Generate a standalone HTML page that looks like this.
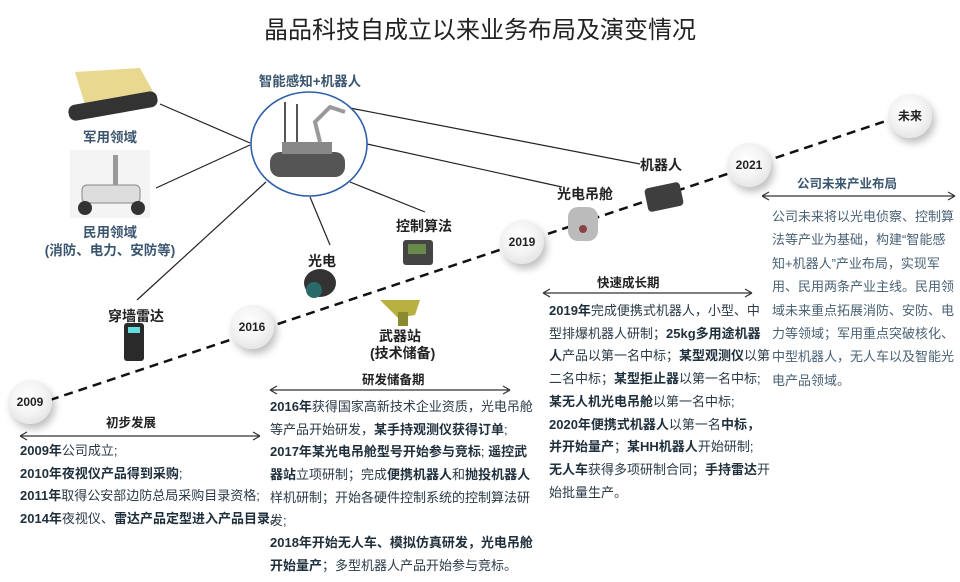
<!DOCTYPE html>
<html><head><meta charset="utf-8"><style>
*{margin:0;padding:0}
body{width:960px;height:582px;background:#fff;position:relative;overflow:hidden;font-family:"Liberation Sans","Noto Sans CJK SC",sans-serif;color:#2b3a47}
.a{position:absolute;white-space:nowrap}
.t{font-size:13px;line-height:22.7px}
b{font-weight:bold;color:#1f2f3c}
.lb{font-weight:bold;font-size:14px;color:#222}
.bl{font-weight:bold;font-size:13.5px;color:#3b5670;text-align:center}
.bub{position:absolute;width:44px;height:44px;border-radius:50%;background:radial-gradient(circle at 45% 40%,#fff 0,#f4f4f4 45%,#d8d8d8 100%);box-shadow:3px 5px 8px rgba(0,0,0,.25);font-weight:bold;font-size:12px;line-height:44px;text-align:center;color:#222}
</style></head><body>
<div class="a" style="left:0;width:960px;top:10px;text-align:center;font-size:24px;color:#222">晶品科技自成立以来业务布局及演变情况</div>
<svg class="a" style="left:0;top:0" width="960" height="582">
<g stroke="#222" stroke-width="1.2" fill="none">
<line x1="160" y1="104" x2="250" y2="143"/>
<line x1="156" y1="188" x2="250" y2="145"/>
<line x1="137" y1="300" x2="266" y2="182"/>
<line x1="310" y1="197" x2="330" y2="245"/>
<line x1="350" y1="182" x2="425" y2="212"/>
<line x1="350" y1="108" x2="640" y2="164"/>
<line x1="367" y1="144" x2="562" y2="187"/>
</g>
<path d="M50 400 L910 113" stroke="#111" stroke-width="2.5" stroke-dasharray="9,6" fill="none"/>
<ellipse cx="309" cy="144" rx="58" ry="52" fill="#fff" stroke="#2f5fa8" stroke-width="1.6"/>
<g fill="#555"><rect x="270" y="152" width="75" height="25" rx="10"/><rect x="282" y="142" width="50" height="12" fill="#888"/><line x1="285" y1="142" x2="285" y2="102" stroke="#555" stroke-width="2"/><line x1="297" y1="142" x2="297" y2="104" stroke="#555" stroke-width="2"/><path d="M320 142 L315 122 L330 107 L345 112" stroke="#999" stroke-width="4" fill="none"/></g>
<g stroke="#333" stroke-width="1.2" fill="none">
<path d="M20 436 L260 436 M20 436 l7 -4 M20 436 l7 4 M260 436 l-7 -4 M260 436 l-7 4"/>
<path d="M270 390 L510 390 M270 390 l7 -4 M270 390 l7 4 M510 390 l-7 -4 M510 390 l-7 4"/>
<path d="M543 293 L752 293 M543 293 l7 -4 M543 293 l7 4 M752 293 l-7 -4 M752 293 l-7 4"/>
<path d="M762 196 L955 196 M762 196 l7 -4 M762 196 l7 4 M955 196 l-7 -4 M955 196 l-7 4"/>
</g>
<path d="M75 72 L140 68 L155 95 L85 105 Z" fill="#e8d890"/><rect x="68" y="98" width="90" height="16" rx="7" fill="#333" transform="rotate(-10 113 106)"/>
<rect x="70" y="150" width="80" height="68" fill="#f4f4f4"/><rect x="82" y="185" width="58" height="18" rx="5" fill="#ddd" stroke="#888"/><circle cx="85" cy="208" r="7" fill="#333"/><circle cx="138" cy="208" r="7" fill="#333"/><rect x="113" y="155" width="5" height="30" fill="#999"/>
<rect x="124" y="323" width="20" height="38" rx="3" fill="#2a2a2a"/><rect x="128" y="327" width="12" height="6" fill="#6dd"/>
<ellipse cx="320" cy="283" rx="16" ry="14" fill="#333"/><circle cx="314" cy="290" r="8" fill="#2a6a6a"/>
<rect x="403" y="240" width="30" height="25" rx="3" fill="#444"/><rect x="408" y="244" width="18" height="10" fill="#6a8a4a"/>
<path d="M380 300 L420 300 L415 315 L398 318 Z" fill="#b8b040"/><rect x="398" y="312" width="10" height="14" fill="#8a8a30"/>
<rect x="568" y="207" width="30" height="34" rx="10" fill="#bbb"/><circle cx="583" cy="229" r="4" fill="#844"/>
<rect x="646" y="185" width="36" height="24" rx="4" fill="#3e3e3e" transform="rotate(-12 664 197)"/>
</svg>
<div class="a bl" style="left:250px;top:70px;width:120px;color:#3b5670">智能感知+机器人</div>
<div class="a bl" style="left:60px;top:126px;width:100px">军用领域</div>
<div class="a bl" style="left:40px;top:224px;width:140px;line-height:18px">民用领域<br>(消防、电力、安防等)</div>
<div class="a lb" style="left:108px;top:306px">穿墙雷达</div>
<div class="a lb" style="left:308px;top:251px">光电</div>
<div class="a lb" style="left:396px;top:216px">控制算法</div>
<div class="a lb" style="left:370px;top:328px;width:60px;text-align:center;line-height:17px">武器站<br>(技术储备)</div>
<div class="a lb" style="left:557px;top:184px">光电吊舱</div>
<div class="a lb" style="left:640px;top:155px">机器人</div>
<div class="bub" style="left:8px;top:380px">2009</div>
<div class="bub" style="left:230px;top:305px">2016</div>
<div class="bub" style="left:500px;top:220px">2019</div>
<div class="bub" style="left:727px;top:143px">2021</div>
<div class="bub" style="left:888px;top:94px">未来</div>
<div class="a lb" style="left:106px;top:412px;font-size:12.5px">初步发展</div>
<div class="a lb" style="left:362px;top:369px;font-size:12.5px">研发储备期</div>
<div class="a lb" style="left:597px;top:272px;font-size:12.5px">快速成长期</div>
<div class="a lb" style="left:797px;top:173px;font-size:12.5px;color:#3b5670">公司未来产业布局</div>
<div class="a t" style="left:20px;top:440px"><b>2009年</b>公司成立;<br><b>2010年夜视仪产品得到采购</b>;<br><b>2011年</b>取得公安部边防总局采购目录资格;<br><b>2014年</b>夜视仪、<b>雷达产品定型进入产品目录。</b></div>
<div class="a t" style="left:270px;top:396px"><b>2016年</b>获得国家高新技术企业资质，光电吊舱<br>等产品开始研发，<b>某手持观测仪获得订单</b>;<br><b>2017年某光电吊舱型号开始参与竞标</b>; <b>遥控武</b><br><b>器站</b>立项研制；完成<b>便携机器人</b>和<b>抛投机器人</b><br>样机研制；开始各硬件控制系统的控制算法研<br>发;<br><b>2018年开始无人车、模拟仿真研发，光电吊舱</b><br><b>开始量产</b>；多型机器人产品开始参与竞标。</div>
<div class="a t" style="left:549px;top:300px"><b>2019年</b>完成便携式机器人，小型、中<br>型排爆机器人研制；<b>25kg多用途机器</b><br><b>人</b>产品以第一名中标；<b>某型观测仪</b>以第<br>二名中标；<b>某型拒止器</b>以第一名中标;<br><b>某无人机光电吊舱</b>以第一名中标;<br><b>2020年便携式机器人</b>以第一名<b>中标，</b><br><b>并开始量产</b>；<b>某HH机器人</b>开始研制;<br><b>无人车</b>获得多项研制合同；<b>手持雷达</b>开<br>始批量生产。</div>
<div class="a t" style="left:772px;top:205px;line-height:23.4px;color:#4a6275">公司未来将以光电侦察、控制算<br>法等产业为基础，构建“智能感<br>知+机器人”产业布局，实现军<br>用、民用两条产业主线。民用领<br>域未来重点拓展消防、安防、电<br>力等领域；军用重点突破核化、<br>中型机器人，无人车以及智能光<br>电产品领域。</div>
</body></html>
